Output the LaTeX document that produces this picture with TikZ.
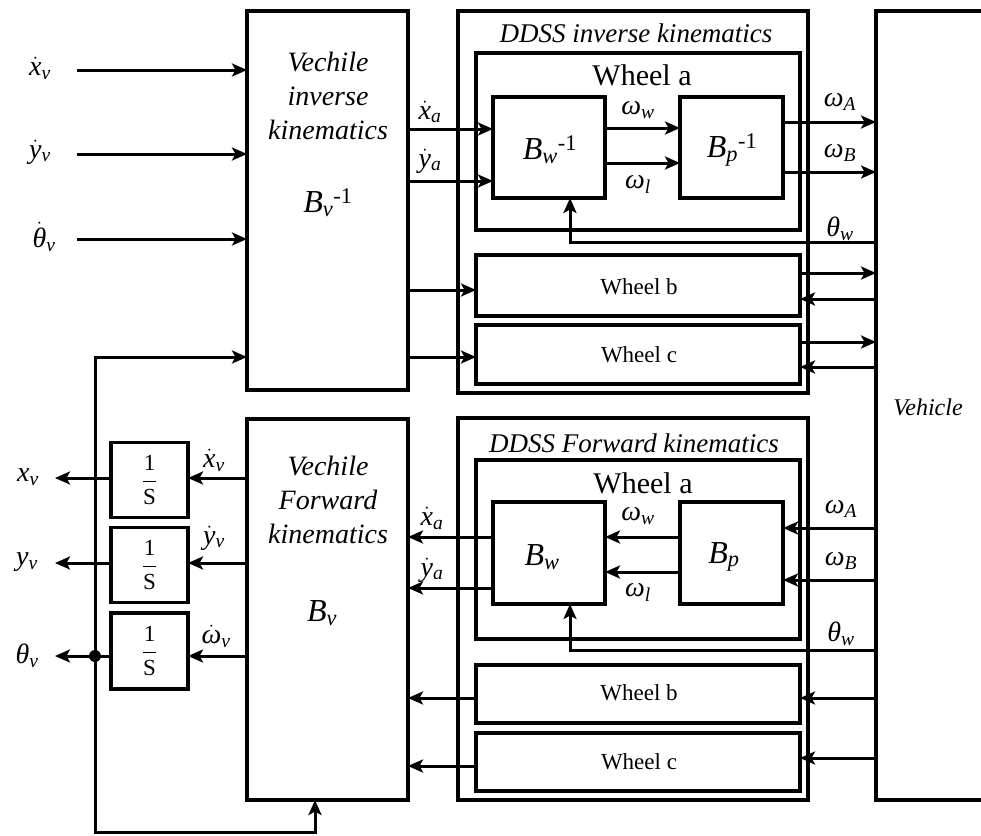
\documentclass[tikz,border=0pt]{standalone}
\usepackage{fontspec}
\setmainfont{Liberation Serif}
\usetikzlibrary{arrows.meta}
\newcommand\vlab[2]{\textit{#1}\textsubscript{\textit{#2}}}
\newcommand\dlab[2]{$\dot{\mbox{\textit{#1}}}$\textsubscript{\textit{#2}}}
\begin{document}
\begin{tikzpicture}[x=1pt,y=-1pt,
  blk/.style={draw, line width=3.4pt, inner sep=0pt, outer sep=0pt},
  conn/.style={line width=3pt, -{Stealth[length=15pt,width=13pt,inset=3.5pt]}},
  big/.style={font=\fontsize{28}{34}\selectfont\itshape, align=center},
  ttl/.style={font=\fontsize{27}{30}\selectfont\itshape},
  wa/.style={font=\fontsize{30}{32}\selectfont},
  wb/.style={font=\fontsize{23}{25}\selectfont},
  mth/.style={font=\fontsize{28}{30}\selectfont, inner sep=1pt},
  bl/.style={font=\fontsize{32}{34}\selectfont},
  fr/.style={font=\fontsize{23}{25}\selectfont}]
\useasboundingbox (0,0) rectangle (981,835);
\clip (0,0) rectangle (981,835);
% ---------- boxes ----------
\node[blk, minimum width=161, minimum height=379] (vi) at (327.5,200.5) {};
\node[blk, minimum width=350, minimum height=382] (ddssI) at (633,202) {};
\node[blk, minimum width=324, minimum height=177] (waI) at (638,141.5) {};
\node[blk, minimum width=112, minimum height=101] (bwi) at (549,147.5) {};
\node[blk, minimum width=103, minimum height=101] (bpi) at (731.5,147.5) {};
\node[blk, minimum width=324, minimum height=61] (wbI) at (638,285.5) {};
\node[blk, minimum width=324, minimum height=59] (wcI) at (638,354.5) {};
\node[blk, minimum width=134, minimum height=789] (veh) at (943,405.5) {};
\node[blk, minimum width=161, minimum height=381] (vf) at (327.5,609.5) {};
\node[blk, minimum width=350, minimum height=382] (ddssF) at (633,609) {};
\node[blk, minimum width=324, minimum height=179] (waF) at (638,549.5) {};
\node[blk, minimum width=112, minimum height=102] (bw) at (549,553) {};
\node[blk, minimum width=103, minimum height=102] (bp) at (731.5,553) {};
\node[blk, minimum width=324, minimum height=58] (wbF) at (638,694) {};
\node[blk, minimum width=324, minimum height=58] (wcF) at (638,762) {};
\node[blk, minimum width=77, minimum height=75] (int1) at (149.5,480) {};
\node[blk, minimum width=77, minimum height=75] (int2) at (149.5,565) {};
\node[blk, minimum width=77, minimum height=76] (int3) at (149.5,651) {};
% ---------- texts ----------
\node[big] (tvi) at (328,96) {Vechile\\inverse\\kinematics};
\node[bl] (tbvi) at (328,203) {\textit{B}\textsubscript{\textit{v}}\textsuperscript{-1}};
\node[ttl] (tdi) at (636,33) {DDSS inverse kinematics};
\node[wa] (twai) at (642,75) {Wheel a};
\node[bl] (tbwi) at (550,150) {\textit{B}\textsubscript{\textit{w}}\textsuperscript{-1}};
\node[bl] (tbpi) at (732,150) {\textit{B}\textsubscript{\textit{p}}\textsuperscript{-1}};
\node[wb] (twbi) at (639,287) {Wheel b};
\node[wb] (twci) at (639,355) {Wheel c};
\node[font=\fontsize{24}{26}\selectfont\itshape] (tveh) at (928,407) {Vehicle};
\node[big] (tvf) at (328,500) {Vechile\\Forward\\kinematics};
\node[bl] (tbv) at (322,613) {\textit{B}\textsubscript{\textit{v}}};
\node[ttl] (tdf) at (634,443) {DDSS Forward kinematics};
\node[wa] (twaf) at (643,483) {Wheel a};
\node[bl] (tbw) at (542,557) {\textit{B}\textsubscript{\textit{w}}};
\node[bl] (tbp) at (724,557) {\textit{B}\textsubscript{\textit{p}}};
\node[wb] (twbf) at (639,693) {Wheel b};
\node[wb] (twcf) at (639,762) {Wheel c};
\node[fr] (f1) at (int1) {$\displaystyle\frac{\mbox{1}}{\mbox{S}}$};
\node[fr] (f2) at (int2) {$\displaystyle\frac{\mbox{1}}{\mbox{S}}$};
\node[fr] (f3) at (int3) {$\displaystyle\frac{\mbox{1}}{\mbox{S}}$};
% labels
\node[mth] (lxv) at (40,68) {\dlab{x}{v}};
\node[mth] (lyv) at (40,152) {\dlab{y}{v}};
\node[mth] (ltv) at (44,237) {\dlab{θ}{v}};
\node[mth] (lxai) at (430,112) {\dlab{x}{a}};
\node[mth] (lyai) at (430,161) {\dlab{y}{a}};
\node[mth] (lwwi) at (638,110) {\vlab{ω}{w}};
\node[mth] (lwli) at (638,184) {\vlab{ω}{l}};
\node[mth] (lwAi) at (840,102) {\vlab{ω}{A}};
\node[mth] (lwBi) at (840,153) {\vlab{ω}{B}};
\node[mth] (ltwi) at (840,229) {\vlab{θ}{w}};
\node[mth] (lxaf) at (432,518) {\dlab{x}{a}};
\node[mth] (lyaf) at (432,570) {\dlab{y}{a}};
\node[mth] (lwwf) at (638,516) {\vlab{ω}{w}};
\node[mth] (lwlf) at (638,592) {\vlab{ω}{l}};
\node[mth] (lwAf) at (841,509) {\vlab{ω}{A}};
\node[mth] (lwBf) at (841,561) {\vlab{ω}{B}};
\node[mth] (ltwf) at (841,634) {\vlab{θ}{w}};
\node[mth] (lxvf) at (214,460) {\dlab{x}{v}};
\node[mth] (lyvf) at (214,538) {\dlab{y}{v}};
\node[mth] (lwvf) at (216,636) {\dlab{ω}{v}};
\node[mth] (oxv) at (28,477) {\vlab{x}{v}};
\node[mth] (oyv) at (27,562) {\vlab{y}{v}};
\node[mth] (otv) at (27,656) {\vlab{θ}{v}};
% ---------- coordinates ----------
\coordinate (in1) at (77,70);
\coordinate (in2) at (77,154);
\coordinate (in3) at (77,239);
\coordinate (o1) at (55,478);
\coordinate (o2) at (55,563);
\coordinate (o3) at (55,656);
\coordinate (jn) at (95,656);
\coordinate (fbu) at (95,357);
\coordinate (fbd) at (95,832);
% ---------- connectors: inverse ----------
\draw[conn] (in1) -- (vi.west |- in1);
\draw[conn] (in2) -- (vi.west |- in2);
\draw[conn] (in3) -- (vi.west |- in3);
\draw[conn] (vi.east |- 0,129) -- (bwi.west |- 0,129);
\draw[conn] (vi.east |- 0,181) -- (bwi.west |- 0,181);
\draw[conn] (bwi.east |- 0,128) -- (bpi.west |- 0,128);
\draw[conn] (bwi.east |- 0,163) -- (bpi.west |- 0,163);
\draw[conn] (bpi.east |- 0,122) -- (veh.west |- 0,122);
\draw[conn] (bpi.east |- 0,172) -- (veh.west |- 0,172);
\draw[conn] (veh.west |- 0,242) -| ([xshift=21pt]bwi.south);
\draw[conn] (vi.east |- 0,290) -- (wbI.west |- 0,290);
\draw[conn] (vi.east |- fbu) -- (wcI.west |- fbu);
\draw[conn] (wbI.east |- 0,273) -- (veh.west |- 0,273);
\draw[conn] (veh.west |- 0,299) -- (wbI.east |- 0,299);
\draw[conn] (wcI.east |- 0,342) -- (veh.west |- 0,342);
\draw[conn] (veh.west |- 0,367) -- (wcI.east |- 0,367);
% ---------- connectors: forward ----------
\draw[conn] (veh.west |- 0,528) -- (bp.east |- 0,528);
\draw[conn] (veh.west |- 0,580) -- (bp.east |- 0,580);
\draw[conn] (bp.west |- 0,537) -- (bw.east |- 0,537);
\draw[conn] (bp.west |- 0,572) -- (bw.east |- 0,572);
\draw[conn] (bw.west |- 0,537) -- (vf.east |- 0,537);
\draw[conn] (bw.west |- 0,588) -- (vf.east |- 0,588);
\draw[conn] (veh.west |- 0,650) -| ([xshift=21pt]bw.south);
\draw[conn] (veh.west |- 0,698) -- (wbF.east |- 0,698);
\draw[conn] (wbF.west |- 0,698) -- (vf.east |- 0,698);
\draw[conn] (veh.west |- 0,758) -- (wcF.east |- 0,758);
\draw[conn] (wcF.west |- 0,766) -- (vf.east |- 0,766);
% ---------- integrators ----------
\draw[conn] (vf.west |- o1) -- (int1.east |- o1);
\draw[conn] (vf.west |- o2) -- (int2.east |- o2);
\draw[conn] (vf.west |- o3) -- (int3.east |- o3);
\draw[conn] (int1.west |- o1) -- (o1);
\draw[conn] (int2.west |- o2) -- (o2);
\draw[conn] (int3.west |- o3) -- (o3);
\fill (jn) circle (6);
\draw[conn] (jn) -- (fbu) -- (vi.west |- fbu);
\draw[conn] (jn) -- (fbd) -| ([xshift=-12.5pt]vf.south);
\end{tikzpicture}
\end{document}
